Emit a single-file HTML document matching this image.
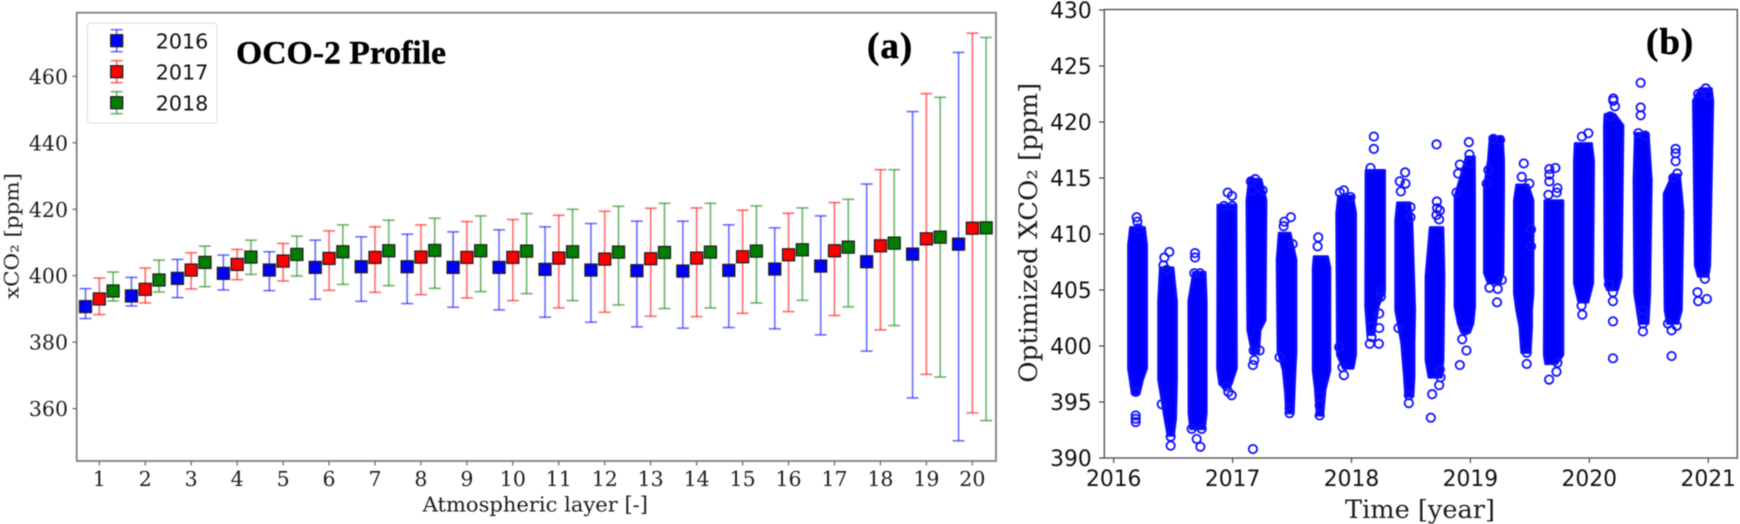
<!DOCTYPE html>
<html lang="en">
<head>
<meta charset="utf-8">
<title>OCO-2 Profile and Optimized XCO2</title>
<style>
html,body{margin:0;padding:0;background:#fff;width:1740px;height:524px;overflow:hidden}
svg{display:block;filter:blur(0.55px)}
</style>
</head>
<body>
<svg id="figure" xmlns="http://www.w3.org/2000/svg" width="1740" height="524" viewBox="0 0 1740 524">
  <g id="panel-a"></g>
  <g id="panel-b"></g>
</svg>
<script>
// ---------- Panel (a) data ----------
const layers = [1,2,3,4,5,6,7,8,9,10,11,12,13,14,15,16,17,18,19,20];
const profileTicks = [360,380,400,420,440,460];
const years = ['2016','2017','2018'];
const yearColors = ['#0000ff','#ff0000','#007f00'];
const mean2016 = [390.7,393.9,399.2,400.7,401.7,402.5,402.7,402.7,402.5,402.5,401.9,401.7,401.5,401.4,401.6,402,402.9,404.2,406.5,409.5];
const upper2016 = [396.1,399.5,404.9,406.2,407.2,410.7,411.7,412.5,413.2,413.8,414.7,415.7,416.4,416.4,415.3,414.4,418,427.6,449.4,467.2];
const lower2016 = [387.1,390.9,393.4,395.7,395.5,392.9,392.3,391.6,390.5,389.7,387.5,386,384.6,384.2,384.4,384,382.2,377.3,363.2,350.3];
const mean2017 = [393,395.9,401.7,403.4,404.4,405.2,405.5,405.6,405.5,405.5,405.3,405,405.1,405.3,405.7,406.3,407.5,409,411.1,414.3];
const upper2017 = [399.3,402.3,406.9,407.9,409.7,413.5,414.7,415.3,416.3,416.9,418.2,419.4,420.3,420.4,419.7,418.8,422,431.9,454.8,473];
const lower2017 = [388.3,391.8,396,398.8,398.4,395.6,395,394.3,393.3,392.5,390.3,389,387.8,387.7,388.7,389.2,388,383.7,370.3,358.7];
const mean2018 = [395.4,398.7,404,405.6,406.4,407.2,407.5,407.6,407.5,407.4,407.2,407.1,407,407.1,407.4,407.8,408.6,409.8,411.6,414.4];
const upper2018 = [401.1,404.7,408.9,410.7,411.9,415.3,416.7,417.3,418,418.7,420,420.9,421.8,421.8,421,420.4,423,431.9,453.7,471.7];
const lower2018 = [392.4,395.1,396.7,400.4,399.9,397.4,397,396.2,395.2,394.6,392.5,391.2,390.1,390.3,391.8,392.6,390.6,385,369.5,356.4];
const yearOffsets = [-0.3,0,0.3];

// ---------- Panel (b) data ----------
const timeTicks = [2016,2017,2018,2019,2020,2021];
const xco2Ticks = [390,395,400,405,410,415,420,425,430];
// Dense columns of overlapping observations: rows of [XCO2, earliest time, latest time]
const clusterEnvelopes = [
 [[410.6,2016.14,2016.26],[409,2016.123,2016.278],[398,2016.123,2016.278],[397,2016.137,2016.245],[395.7,2016.155,2016.215]],
 [[407,2016.39,2016.5],[404,2016.376,2016.53],[397,2016.376,2016.53],[393.5,2016.43,2016.522],[392,2016.455,2016.505]],
 [[406.6,2016.67,2016.77],[404,2016.63,2016.78],[394,2016.632,2016.78],[392.6,2016.645,2016.765]],
 [[412.6,2016.875,2017.03],[398,2016.872,2017.034],[396.6,2016.89,2016.99],[396.3,2016.92,2016.97]],
 [[414.9,2017.14,2017.24],[413,2017.119,2017.283],[402.3,2017.125,2017.275],[401.4,2017.126,2017.233],[399.4,2017.165,2017.22]],
 [[410.1,2017.39,2017.485],[407.7,2017.373,2017.535],[399.5,2017.38,2017.535],[397.9,2017.423,2017.527],[395.8,2017.443,2017.519],[394,2017.452,2017.512]],
 [[408,2017.685,2017.8],[407,2017.676,2017.82],[397.8,2017.676,2017.82],[396.1,2017.695,2017.78],[393.8,2017.71,2017.76]],
 [[413.4,2017.89,2018.01],[411.9,2017.874,2018.036],[399.2,2017.88,2018.036],[398,2017.93,2018.015]],
 [[415.7,2018.12,2018.28],[405,2018.118,2018.28],[403.5,2018.118,2018.225],[401,2018.135,2018.19]],
 [[412.8,2018.385,2018.49],[411.2,2018.37,2018.51],[403.2,2018.37,2018.533],[400.3,2018.42,2018.527],[397.3,2018.443,2018.527],[395.5,2018.454,2018.519]],
 [[410.6,2018.66,2018.77],[406.2,2018.625,2018.78],[398.7,2018.625,2018.771],[397.2,2018.65,2018.757]],
 [[416.9,2018.965,2019.035],[413.3,2018.869,2019.037],[403.5,2018.869,2019.037],[402,2018.897,2019.023],[401.2,2018.925,2018.995]],
 [[418.7,2019.165,2019.27],[416.6,2019.15,2019.281],[414.2,2019.116,2019.281],[406.5,2019.116,2019.276],[405.6,2019.15,2019.25]],
 [[414.4,2019.388,2019.486],[413,2019.368,2019.528],[404.7,2019.368,2019.528],[403.2,2019.388,2019.516],[401.7,2019.415,2019.516],[399.4,2019.43,2019.505]],
 [[413,2019.625,2019.78],[399.2,2019.62,2019.78],[398.4,2019.632,2019.725]],
 [[418.1,2019.88,2020.02],[416.5,2019.873,2020.038],[405.6,2019.873,2020.03],[403.9,2019.91,2019.99]],
 [[420.7,2020.13,2020.215],[419.7,2020.125,2020.285],[406.2,2020.13,2020.27],[405,2020.15,2020.24]],
 [[419,2020.385,2020.497],[414.8,2020.374,2020.523],[404.7,2020.38,2020.51],[402,2020.42,2020.496]],
 [[415.3,2020.7,2020.76],[413.6,2020.627,2020.776],[412,2020.627,2020.79],[403.2,2020.636,2020.776],[402,2020.655,2020.745]],
 [[423,2020.93,2021.028],[421.9,2020.874,2021.04],[407.2,2020.89,2021.014],[406.2,2020.916,2021.0]]
];
// Individually visible observations outside the dense columns
const outlierTimes = [
 2016.193,2016.199,2016.207,2016.185,2016.185,2016.185,2016.185,
 2016.468,2016.426,2016.418,2016.446,2016.479,2016.479,2016.404,
 2016.684,2016.684,2016.678,2016.726,2016.656,2016.74,2016.698,2016.729,
 2016.959,2016.995,2016.928,2016.998,2016.964,2016.992,2016.95,
 2017.19,2017.154,2017.252,2017.163,2017.171,2017.171,2017.182,2017.227,2017.177,
 2017.49,2017.435,2017.429,2017.505,2017.395,2017.479,2017.479,
 2017.72,2017.715,2017.732,2017.732,2017.732,
 2017.936,2017.902,2017.992,2017.936,2017.896,2017.924,
 2018.16,2018.188,2018.188,2018.154,2018.23,2018.233,2018.233,2018.247,2018.247,2018.168,2018.168,
 2018.451,2018.406,2018.454,2018.415,2018.496,2018.496,2018.482,2018.482,2018.395,
 2018.715,2018.718,2018.72,2018.743,2018.715,2018.737,2018.667,2018.678,2018.737,2018.749,2018.743,
 2018.987,2018.992,2018.992,2018.897,2018.911,2018.883,2018.911,2018.967,2018.931,2018.959,
 2019.193,2019.25,2019.151,2019.137,2019.224,2019.16,2019.23,2019.264,
 2019.449,2019.432,2019.496,2019.474,2019.474,2019.51,2019.51,
 2019.715,2019.664,2019.664,2019.664,2019.732,2019.656,2019.726,2019.662,2019.724,2019.732,
 2019.992,2019.938,2019.941,2019.935,
 2020.202,2020.202,2020.216,2020.175,2020.199,2020.199,2020.199,2020.199,2020.165,
 2020.432,2020.432,2020.432,2020.412,2020.468,2020.451,2020.451,2020.451,2020.451,
 2020.726,2020.726,2020.726,2020.74,2020.706,2020.692,2020.692,2020.735,2020.662,
 2020.98,2020.916,2021.0,2020.989,2020.916,2020.91,2020.972
];
const outlierValues = [
 411.5,411.1,410.5,395.9,393.8,393.5,393.2,
 408.4,407.9,407.2,406.8,391.9,391.1,394.8,
 408.3,407.9,406.5,406.5,392.6,392.6,391.7,391,
 413.7,413.4,412.5,412.5,395.9,395.6,396.4,
 414.9,414.7,413.9,413.9,390.8,398.3,398.75,399.6,399.6,
 411.5,411.1,410.7,409.1,399,394,394.4,
 409.7,408.9,393.8,394.7,395.5,
 413.9,413.7,413.3,397.4,399.9,398.1,
 415.9,418.7,417.6,400.2,400.2,401.6,402.9,404.4,404.8,401.7,400.8,
 415.5,414.7,414.5,413.8,412.4,411.5,394.9,395.6,401.6,
 418,412.9,412.3,412.1,411.7,411.3,393.6,395.7,396.5,397.2,397.9,
 418.2,417.1,416.3,415.4,416.2,413.7,398.3,399.6,400.6,401.4,
 418.5,418.4,415.7,414.5,403.9,405.2,405.1,405.9,
 416.3,415.1,414.5,398.4,399.4,408.9,410.4,
 415.9,415.8,415.3,414.7,414.1,413.5,413.7,397,397.7,398.5,
 419,418.7,402.8,403.6,
 422.1,421.9,421.4,420.5,398.9,402.2,404,404.8,405.5,
 423.5,421.3,420.6,419,418.8,401.3,402,402.6,403.2,
 417.6,417.2,416.5,415.4,415,399.1,401.4,401.8,402,
 423,422.5,422.4,404.2,404,404.8,406
];

// ---------- Axis functions ----------
const layerX = v => 99.3 + (v - 1) * 45.95;
const profileY = v => 275.7 - (v - 400) * 3.3225;
const timeX = v => 1113.7 + (v - 2016) * 118.9;
const xco2Y = v => 346 - (v - 400) * 11.2;

const NS = 'http://www.w3.org/2000/svg';
function mk(parent, tag, attrs, text) {
  const el = document.createElementNS(NS, tag);
  for (const k in attrs) el.setAttribute(k, attrs[k]);
  if (text !== undefined) el.textContent = text;
  parent.appendChild(el);
  return el;
}
const panelA = document.getElementById('panel-a');
const panelB = document.getElementById('panel-b');

// ---------- Panel (a) ----------
const frameA = mk(panelA, 'rect', {x:76.7, y:12.7, width:919.3, height:448.3, fill:'none', stroke:'#808080', 'stroke-width':1.8});



profileTicks.forEach(t => {
  const tick = mk(panelA, 'line', {x1:72.5, x2:76.7, y1:profileY(t), y2:profileY(t), stroke:'#666', 'stroke-width':1.2});
  
  
  const label = mk(panelA, 'text', {x:68, y:profileY(t) + 7.5, 'text-anchor':'end', 'font-family':'"DejaVu Serif", serif', 'font-size':20.5, fill:'#1c1c1c'}, t);
  
  
});
layers.forEach(l => {
  const tick = mk(panelA, 'line', {x1:layerX(l), x2:layerX(l), y1:461, y2:465.5, stroke:'#666', 'stroke-width':1.2});
  
  
  const label = mk(panelA, 'text', {x:layerX(l), y:486, 'text-anchor':'middle', 'font-family':'"DejaVu Serif", serif', 'font-size':20.5, fill:'#1c1c1c'}, l);
  
  
});

function errorMark(parent, x, yMean, yUp, yLow, color, capHalf) {
  const a = {stroke:color, 'stroke-opacity':0.55, 'stroke-width':1.7};
  mk(parent, 'line', Object.assign({x1:x, x2:x, y1:yUp, y2:yLow}, a));
  mk(parent, 'line', Object.assign({x1:x-capHalf, x2:x+capHalf, y1:yUp, y2:yUp}, a));
  mk(parent, 'line', Object.assign({x1:x-capHalf, x2:x+capHalf, y1:yLow, y2:yLow}, a));
  mk(parent, 'rect', {x:x-6, y:yMean-6, width:12, height:12, fill:color, stroke:'#222', 'stroke-width':1.3});
}
const seriesMeans = [mean2016, mean2017, mean2018];
const seriesUppers = [upper2016, upper2017, upper2018];
const seriesLowers = [lower2016, lower2017, lower2018];
years.forEach((year, s) => {
  const group = mk(panelA, 'g', {});
  
  
  layers.forEach((l, i) => {
    const point = mk(group, 'g', {});
    
    
    errorMark(point, layerX(l + yearOffsets[s]), profileY(seriesMeans[s][i]), profileY(seriesUppers[s][i]), profileY(seriesLowers[s][i]), yearColors[s], 6);
  });
});

const legendBox = mk(panelA, 'rect', {x:87.5, y:23.3, width:129.5, height:99.7, rx:3, fill:'#fff', 'fill-opacity':0.9, stroke:'#dcdcdc', 'stroke-width':1});


const legendRowY = [40.7, 71.7, 102.7];
years.forEach((year, s) => {
  const entry = mk(panelA, 'g', {});
  
  
  errorMark(entry, 116.7, legendRowY[s], legendRowY[s] - 11, legendRowY[s] + 11, yearColors[s], 6);
  mk(entry, 'text', {x:155.7, y:legendRowY[s] + 7.8, 'font-family':'"DejaVu Sans", sans-serif', 'font-size':20.7, fill:'#111'}, year);
});

const titleA = mk(panelA, 'text', {x:236, y:63.3, 'font-family':'"Liberation Serif", serif', 'font-weight':'bold', 'font-size':33, textLength:210, lengthAdjust:'spacingAndGlyphs', fill:'#000', stroke:'#000', 'stroke-width':0.4}, 'OCO-2 Profile');


const tagA = mk(panelA, 'text', {x:867, y:58, 'font-family':'"Liberation Serif", serif', 'font-weight':'bold', 'font-size':37, 'letter-spacing':1, fill:'#000', stroke:'#000', 'stroke-width':0.5}, '(a)');


const xTitleA = mk(panelA, 'text', {x:422.7, y:511.7, 'font-family':'"DejaVu Serif", serif', 'font-size':20.5, textLength:225.3, lengthAdjust:'spacingAndGlyphs', fill:'#1c1c1c'}, 'Atmospheric layer [-]');


const yTitleA = mk(panelA, 'text', {transform:'translate(18.5 299) rotate(-90)', 'font-family':'"DejaVu Serif", serif', 'font-size':20, textLength:126, lengthAdjust:'spacingAndGlyphs', fill:'#1c1c1c'}, 'xCO₂ [ppm]');



// ---------- Panel (b) ----------
const frameB = mk(panelB, 'rect', {x:1104.3, y:9.5, width:633, height:448.5, fill:'#fff', stroke:'#555', 'stroke-width':1.4});



xco2Ticks.forEach(t => {
  const tick = mk(panelB, 'line', {x1:1099, x2:1104.3, y1:xco2Y(t), y2:xco2Y(t), stroke:'#444', 'stroke-width':1.2});
  
  
  const label = mk(panelB, 'text', {x:1091.7, y:xco2Y(t) + 8, 'text-anchor':'end', 'font-family':'"DejaVu Sans", sans-serif', 'font-size':21.8, fill:'#111'}, t);
  
  
});
timeTicks.forEach(t => {
  const tick = mk(panelB, 'line', {x1:timeX(t), x2:timeX(t), y1:458, y2:463, stroke:'#444', 'stroke-width':1.2});
  
  
  const label = mk(panelB, 'text', {x:timeX(t), y:486, 'text-anchor':'middle', 'font-family':'"DejaVu Sans", sans-serif', 'font-size':21.8, fill:'#111'}, t);
  
  
});

clusterEnvelopes.forEach(rows => {
  const right = rows.map(r => timeX(r[2]).toFixed(1) + ',' + xco2Y(r[0]).toFixed(1));
  const left = rows.slice().reverse().map(r => timeX(r[1]).toFixed(1) + ',' + xco2Y(r[0]).toFixed(1));
  const poly = mk(panelB, 'polygon', {points:right.concat(left).join(' '), fill:'#0000ff', stroke:'#0c0cff', 'stroke-width':2.4, 'stroke-linejoin':'round'});
  
  
});
outlierTimes.forEach((t, i) => {
  const c = mk(panelB, 'circle', {cx:timeX(t), cy:xco2Y(outlierValues[i]), r:4.2, fill:'none', stroke:'#1010ff', 'stroke-width':1.8});
  
  
});

const tagB = mk(panelB, 'text', {x:1646, y:54, 'font-family':'"Liberation Serif", serif', 'font-weight':'bold', 'font-size':37, 'letter-spacing':1, fill:'#000', stroke:'#000', 'stroke-width':0.5}, '(b)');


const xTitleB = mk(panelB, 'text', {x:1345, y:518, 'font-family':'"DejaVu Serif", serif', 'font-size':25, textLength:150, lengthAdjust:'spacingAndGlyphs', fill:'#1c1c1c'}, 'Time [year]');


const yTitleB = mk(panelB, 'text', {transform:'translate(1037 382.7) rotate(-90)', 'font-family':'"DejaVu Serif", serif', 'font-size':25.5, textLength:300, lengthAdjust:'spacingAndGlyphs', fill:'#1c1c1c'}, 'Optimized XCO₂ [ppm]');


</script>
</body>
</html>
